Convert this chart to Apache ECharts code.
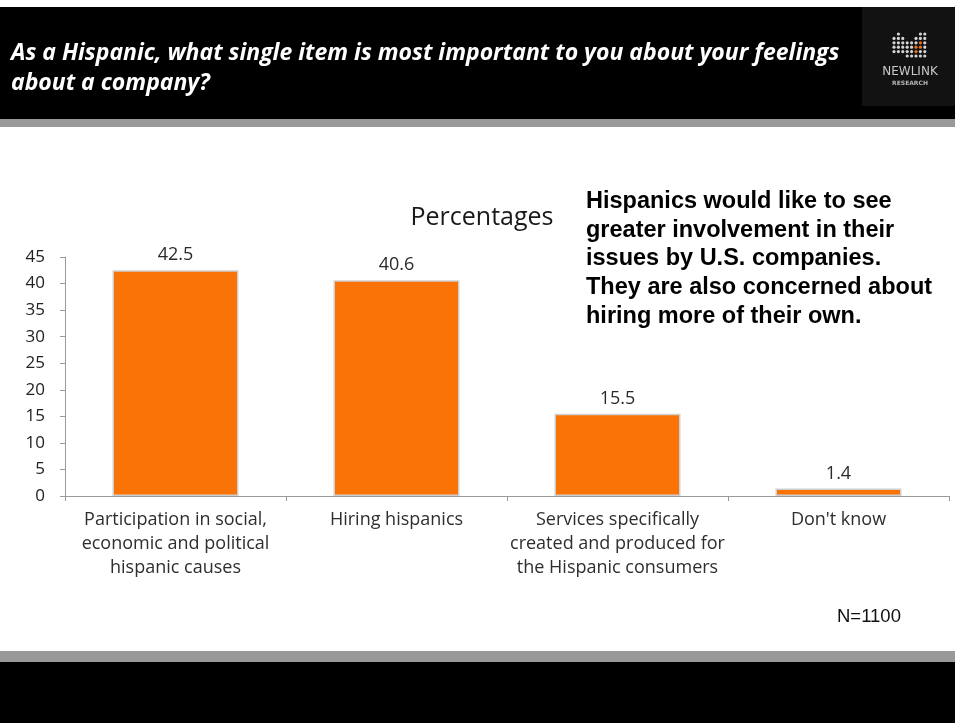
<!DOCTYPE html>
<html>
<head>
<meta charset="utf-8">
<script src="https://cdn.jsdelivr.net/npm/echarts@6/dist/echarts.min.js"></script>
<style>
  html, body { margin: 0; padding: 0; background: #fff; }
  #chart { width: 955px; height: 723px; }
</style>
</head>
<body>
<div id="chart"></div>
<script>
// Survey answers (percent of respondents)
const categories = [
  'Participation in social,\neconomic and political\nhispanic causes',
  'Hiring hispanics',
  'Services specifically\ncreated and produced for\nthe Hispanic consumers',
  "Don't know"
];
const percentages = [42.5, 40.6, 15.5, 1.4];
const yTicks = { min: 0, max: 45, interval: 5 };

const question = 'As a Hispanic, what single item is most important to you about your feelings\nabout a company?';
const takeaway = 'Hispanics would like to see\ngreater involvement in their\nissues by U.S. companies.\nThey are also concerned about\nhiring more of their own.';
const sampleSize = 'N=1100';

const chart = echarts.init(document.getElementById('chart'), null, { renderer: 'canvas' });

// Dotted "N" mark of the logo
function logoDots() {
  const dots = [];
  const heights = [4, 5, 4, 4, 4, 5, 6, 6];
  const offsets = [1, 0, 1, 2, 2, 1, 0, 0];
  const ox = 894, oy = 34, s = 4.4;
  heights.forEach((h, i) => {
    for (let r = 0; r < h; r++) {
      const orange = (i === 5 || i === 6) && (r === 2 || r === 3);
      dots.push({
        type: 'circle',
        shape: { cx: ox + i * s, cy: oy + (offsets[i] + r) * s, r: 1.6 },
        style: { fill: orange ? '#e8731a' : '#d5d5d5' },
        silent: true
      });
    }
  });
  return dots;
}

const option = {
  backgroundColor: '#ffffff',
  animation: false,
  graphic: [
    { type: 'rect', shape: { x: 0, y: 7, width: 955, height: 112 }, style: { fill: '#000' }, silent: true },
    { type: 'rect', shape: { x: 0, y: 119, width: 955, height: 8 }, style: { fill: '#999999' }, silent: true },
    { type: 'rect', shape: { x: 862, y: 7, width: 93, height: 99 }, style: { fill: '#121212' }, silent: true },
    ...logoDots(),
    {
      type: 'text', silent: true,
      style: { x: 910, y: 72, text: 'NEWLINK', fill: '#c8c8c8', font: '12px "DejaVu Sans"',
               align: 'center', verticalAlign: 'middle' }
    },
    {
      type: 'text', silent: true,
      style: { x: 910, y: 83, text: 'RESEARCH', fill: '#b5b5b5', font: 'bold 6px "DejaVu Sans"',
               align: 'center', verticalAlign: 'middle' }
    },
    {
      type: 'text', left: 11, top: 38, silent: true,
      style: { text: question, fill: '#ffffff', font: 'italic bold 23px "Open Sans"', lineHeight: 30 }
    },
    {
      type: 'text', silent: true,
      style: { x: 482, y: 218, text: 'Percentages', fill: '#1a1a1a', font: '25px "Open Sans"',
               align: 'center', verticalAlign: 'middle' }
    },
    {
      type: 'text', left: 586, top: 187, silent: true,
      style: { text: takeaway, fill: '#000000', font: 'bold 23.5px "Liberation Sans"', lineHeight: 28.7 }
    },
    {
      type: 'text', left: 837, top: 607, silent: true,
      style: { text: sampleSize, fill: '#111111', font: '18.5px "Liberation Sans"' }
    },
    { type: 'rect', shape: { x: 0, y: 651, width: 955, height: 11 }, style: { fill: '#999999' }, silent: true },
    { type: 'rect', shape: { x: 0, y: 662, width: 955, height: 61 }, style: { fill: '#000' }, silent: true }
  ],
  grid: { left: 65, right: 6, top: 257, bottom: 227, containLabel: false },
  xAxis: {
    type: 'category',
    data: categories,
    axisLine: { lineStyle: { color: '#9a9a9a', width: 1 } },
    axisTick: { show: true, alignWithLabel: false, length: 5, lineStyle: { color: '#9a9a9a' } },
    axisLabel: {
      interval: 0, margin: 12, color: '#2e2e2e',
      fontFamily: 'Open Sans', fontSize: 18, lineHeight: 24, align: 'center'
    }
  },
  yAxis: {
    type: 'value',
    min: yTicks.min, max: yTicks.max, interval: yTicks.interval,
    splitLine: { show: false },
    axisLine: { show: true, lineStyle: { color: '#9a9a9a', width: 1 } },
    axisTick: { show: true, length: 5, lineStyle: { color: '#9a9a9a' } },
    axisLabel: { color: '#222222', fontFamily: 'Open Sans', fontSize: 17, margin: 20 }
  },
  series: [{
    type: 'bar',
    data: percentages,
    barWidth: '57%',
    itemStyle: { color: '#f97306', borderColor: '#cfcfcf', borderWidth: 1.5 },
    label: {
      show: true, position: 'top', distance: 6,
      color: '#2a2a2a', fontFamily: 'Open Sans', fontSize: 18,
      formatter: p => p.value.toFixed(1)
    }
  }]
};

chart.setOption(option);
</script>
</body>
</html>
